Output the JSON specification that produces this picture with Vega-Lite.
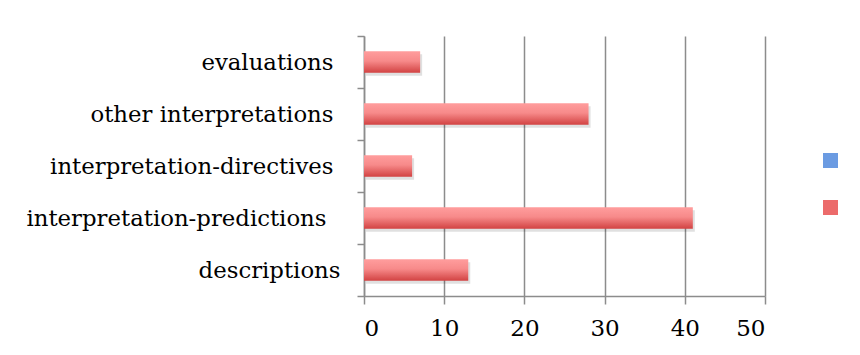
{
  "$schema": "https://vega.github.io/schema/vega-lite/v6.json",
  "width": 401,
  "height": 260,
  "autosize": {"type": "none"},
  "padding": {"left": 364, "top": 36, "right": 95, "bottom": 59},
  "background": "white",
  "config": {"view": {"stroke": null}, "font": "DejaVu Serif"},
  "data": {
    "values": [
      {"category": "evaluations", "series": "Series 2", "value": 7},
      {"category": "other interpretations", "series": "Series 2", "value": 28},
      {"category": "interpretation-directives", "series": "Series 2", "value": 6},
      {"category": "interpretation-predictions", "series": "Series 2", "value": 41},
      {"category": "descriptions", "series": "Series 2", "value": 13}
    ]
  },
  "encoding": {
    "y": {
      "field": "category",
      "type": "nominal",
      "sort": ["evaluations", "other interpretations", "interpretation-directives", "interpretation-predictions", "descriptions"],
      "scale": {"paddingInner": 0, "paddingOuter": 0},
      "axis": {
        "title": null,
        "tickBand": "extent",
        "tickSize": 7,
        "tickColor": "#8c8c8c",
        "tickWidth": 1.5,
        "domainColor": "#8c8c8c",
        "domainWidth": 1.5,
        "labelFontSize": 22.8,
        "labelColor": "#000000",
        "labelPadding": {
          "condition": [
            {"test": "datum.value === 'descriptions'", "value": 17},
            {"test": "datum.value === 'interpretation-predictions'", "value": 31}
          ],
          "value": 24
        },
        "labelLimit": 400,
        "labelExpr": "datum.value == null ? '' : datum.label",
        "grid": false
      }
    },
    "x": {
      "field": "value",
      "type": "quantitative",
      "scale": {"domain": [0, 50], "nice": false},
      "axis": {
        "title": null,
        "values": [0, 10, 20, 30, 40, 50],
        "grid": true,
        "gridColor": "#8c8c8c",
        "gridWidth": 1.5,
        "tickSize": 8,
        "tickColor": "#8c8c8c",
        "tickWidth": 1.5,
        "domainColor": "#8c8c8c",
        "domainWidth": 1.5,
        "labelFontSize": 23,
        "labelColor": "#000000",
        "labelPadding": 13
      }
    }
  },
  "layer": [
    {
      "mark": {"type": "bar", "height": {"band": 0.41}, "color": "#000000", "opacity": 0.12, "xOffset": 2, "yOffset": 3}
    },
    {
      "mark": {
        "type": "bar",
        "height": {"band": 0.41},
        "color": {"gradient": "linear", "x1": 0, "y1": 0, "x2": 0, "y2": 1, "stops": [{"offset": 0, "color": "#ff9d9d"}, {"offset": 0.45, "color": "#f78a8a"}, {"offset": 1, "color": "#d24343"}]}
      }
    },
    {
      "mark": {"type": "bar", "height": {"band": 0.41}, "opacity": 0},
      "encoding": {
        "color": {
          "field": "series",
          "type": "nominal",
          "scale": {"domain": ["Series 1", "Series 2"], "range": ["#6b9be2", "#ec6b6b"]},
          "legend": {
            "orient": "none",
            "legendX": 459,
            "legendY": 117,
            "title": null,
            "symbolType": "square",
            "symbolSize": 225,
            "symbolOpacity": 1,
            "symbolStrokeWidth": 0,
            "labelExpr": "''",
            "labelFontSize": 1,
            "rowPadding": 32,
            "padding": 0,
            "encode": {
              "symbols": {
                "update": {
                  "fill": [
                    {"test": "datum.value === 'Series 1'", "value": {"gradient": "linear", "x1": 0, "y1": 0, "x2": 0, "y2": 1, "stops": [{"offset": 0, "color": "#93bcf7"}, {"offset": 1, "color": "#3c78cb"}]}},
                    {"value": {"gradient": "linear", "x1": 0, "y1": 0, "x2": 0, "y2": 1, "stops": [{"offset": 0, "color": "#ff9d9d"}, {"offset": 1, "color": "#d24343"}]}}
                  ],
                  "opacity": {"value": 1}
                }
              }
            }
          }
        }
      }
    }
  ]
}
